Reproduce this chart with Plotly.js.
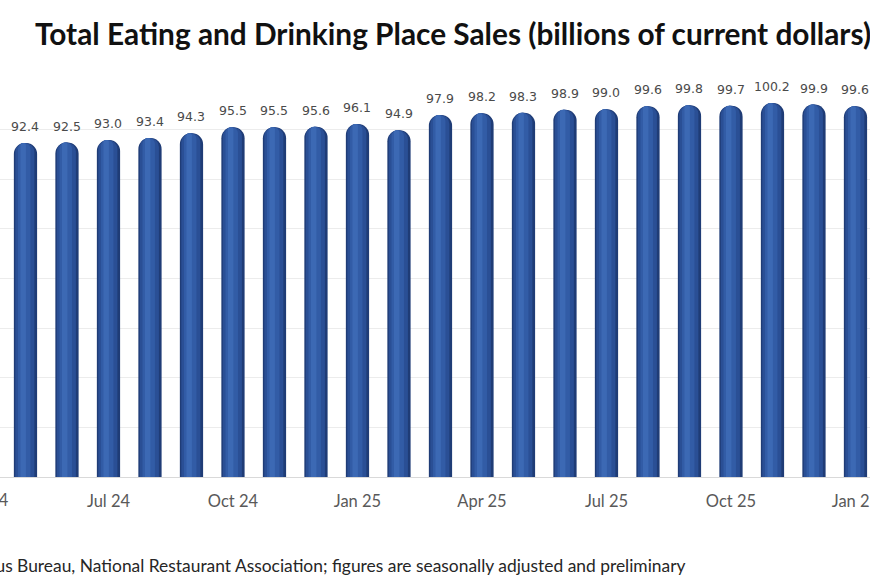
<!DOCTYPE html>
<html>
<head>
<meta charset="utf-8">
<script src="https://cdn.plot.ly/plotly-3.0.1.min.js"></script>
<style>html,body{margin:0;padding:0;background:#fff;}#chart{width:870px;height:580px;}</style>
</head>
<body>
<div id="chart"></div>
<script>
// Month index: 0 = Apr 24 (just off the left edge), 1 = May 24 ... 21 = Jan 26
const monthIndex = [1,2,3,4,5,6,7,8,9,10,11,12,13,14,15,16,17,18,19,20,21];
const monthNames = ["May 24","Jun 24","Jul 24","Aug 24","Sep 24","Oct 24","Nov 24","Dec 24","Jan 25","Feb 25","Mar 25","Apr 25","May 25","Jun 25","Jul 25","Aug 25","Sep 25","Oct 25","Nov 25","Dec 25","Jan 26"];
const sales = [92.4,92.5,93.0,93.4,94.3,95.5,95.5,95.6,96.1,94.9,97.9,98.2,98.3,98.9,99.0,99.6,99.8,99.7,100.2,99.9,99.6];
const tickIndex = [0,3,6,9,12,15,18,21];
const tickLabels = ["Apr 24","Jul 24","Oct 24","Jan 25","Apr 25","Jul 25","Oct 25","Jan 26"];

const xRange = [0.386, 21.35];
const yRange = [27.3, 104.7];
const yStep = (yRange[1]-yRange[0])/8;
const gridVals = [];
for (let k=0;k<=8;k++) gridVals.push(yRange[0]+k*yStep);

function layer(width, color, offset) {
  const t = {
    type:'bar', x:monthIndex, y:sales, base:0, width:width,
    marker:{color:color, cornerradius:'50%', line:{width:0}},
    hoverinfo:'skip', showlegend:false, cliponaxis:true
  };
  if (offset !== undefined) t.offset = offset;
  return t;
}
const traces = [
  layer(0.56, '#1F3C76'),
  layer(0.46, '#2A4F95', -0.245),
  layer(0.30, '#325CA6', -0.18),
  layer(0.13, '#3C69B4', -0.12)
];

const tickFont = {family:'Lato', size:16.5, color:'#595959'};

const labelAnns = sales.map((v,i)=>({
  x: monthIndex[i], y: v, xref:'x', yref:'y', text: v.toFixed(1),
  showarrow:false, yanchor:'bottom', yshift:7,
  font:{family:'DejaVu Sans', size:12.5, color:'#4a4a4a'}
}));

const extraAnns = [
  { // first tick label, centred just left of the visible area
    xref:'paper', yref:'paper', x:(tickIndex[0]-xRange[0])/(xRange[1]-xRange[0]), y:-23/397,
    text: tickLabels[0], showarrow:false, xanchor:'center', yanchor:'middle',
    font:tickFont
  },
  {
    xref:'paper', yref:'paper', x:0.791, y:-0.224, xanchor:'right', yanchor:'middle',
    text:'Source: U.S. Census Bureau, National Restaurant Association; figures are seasonally adjusted and preliminary',
    showarrow:false, font:{family:'Lato', size:17.4, color:'#262626'}
  }
];

const layout = {
  width:870, height:580,
  margin:{l:0, r:0, t:80, b:103, pad:0},
  paper_bgcolor:'#fff', plot_bgcolor:'#fff',
  barmode:'overlay',
  title:{
    text:'<b>Total Eating and Drinking Place Sales (billions of current dollars)</b>',
    x:35/870, xanchor:'left', xref:'paper', yref:'container', y:1-35/580, yanchor:'middle',
    font:{family:'Lato', size:29.8, color:'#111'}
  },
  xaxis:{
    range:xRange, tickmode:'array', tickvals:tickIndex, ticktext:tickLabels,
    showgrid:false, zeroline:false, showline:true, linecolor:'#d9d9d9', linewidth:1,
    ticks:'outside', ticklen:9, tickcolor:'rgba(0,0,0,0)', ticklabeloverflow:'allow',
    tickfont:tickFont, fixedrange:true
  },
  yaxis:{
    range:yRange, tickmode:'array', tickvals:gridVals, showticklabels:false,
    showgrid:true, gridcolor:'#ececec', gridwidth:1, zeroline:false, showline:false,
    fixedrange:true
  },
  annotations: labelAnns.concat(extraAnns),
  font:{family:'Lato'}
};

Plotly.newPlot('chart', traces, layout, {displayModeBar:false, staticPlot:true});
</script>
</body>
</html>
